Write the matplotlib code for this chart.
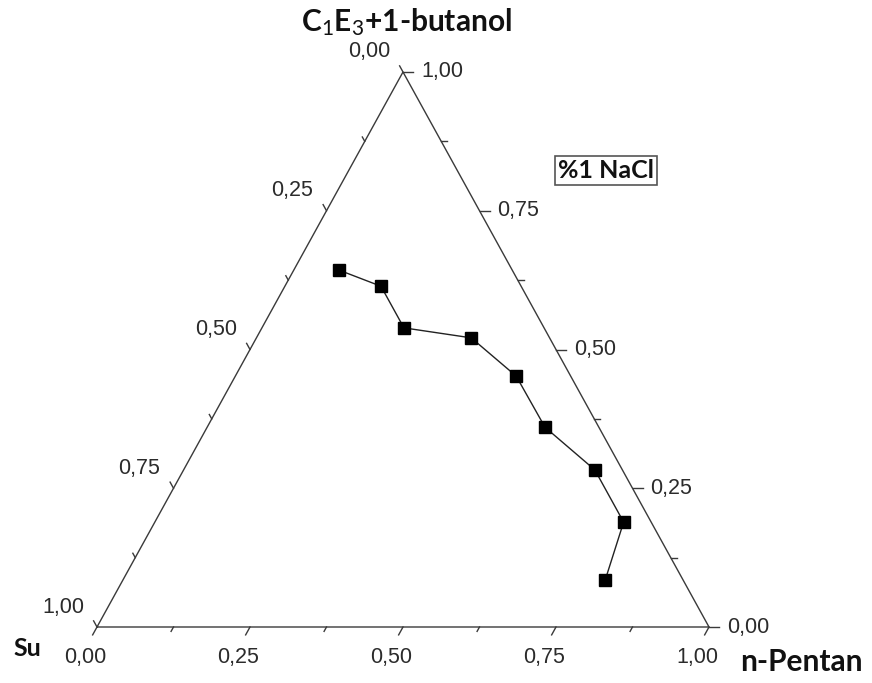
import numpy as np
import matplotlib as mpl
mpl.use('Agg')
from matplotlib import pyplot as plt

# ternary data: fractions of C1E3+1-butanol (top) and n-Pentan (right); Su = rest
butanol = [0.643, 0.614, 0.539, 0.521, 0.452, 0.360, 0.283, 0.189, 0.085]
pentan = [0.074, 0.157, 0.232, 0.351, 0.459, 0.552, 0.672, 0.766, 0.788]

major_ticks = [0.0, 0.25, 0.5, 0.75, 1.0]
minor_ticks = [0.125, 0.375, 0.625, 0.875]
tick_labels = ["0,00", "0,25", "0,50", "0,75", "1,00"]

top_label = r"C$_{1}$E$_{3}$+1-butanol"
left_label = "Su"
right_label = "n-Pentan"
note = "%1 NaCl"

plt.rcParams['mathtext.fontset'] = 'custom'
plt.rcParams['mathtext.rm'] = 'Lato'
plt.rcParams['mathtext.it'] = 'Lato'
plt.rcParams['mathtext.bf'] = 'Lato:bold'

# pixel scales of the triangle (base 612 px, height 555 px)
SX, SY = 612.0, 555.0


def tern(b, p):
    """Ternary fractions -> cartesian (triangle base 0..1, top at y=1)."""
    b = np.asarray(b, dtype=float)
    p = np.asarray(p, dtype=float)
    return p + 0.5 * b, b


def px(dx, dy):
    """Pixel offset -> data offset (dy positive = down)."""
    return dx / SX, -dy / SY


fig = plt.figure(figsize=(8.72, 6.83), dpi=100)
ax = fig.add_axes([0, 0, 1, 1])
ax.set_xlim(-97 / SX, 775 / SX)
ax.set_ylim(-56 / SY, 627 / SY)
ax.axis('off')

edge = '#3a3a3a'
tcol = '#2b2b2b'
# triangle
tx, ty = tern([0, 0, 1, 0], [0, 1, 0, 0])
ax.plot(tx, ty, color=edge, lw=1.0, solid_joinstyle='miter')

# unit tick directions in pixels
d_bottom = np.array([-306, 555]) / np.hypot(306, 555)
d_left = np.array([-306, -555]) / np.hypot(306, 555)
d_right = np.array([1.0, 0.0])


def tick(x0, y0, d, L):
    ddx, ddy = px(d[0] * L, d[1] * L)
    ax.plot([x0, x0 + ddx], [y0, y0 + ddy], color=edge, lw=1.0)


fs = 15.5
for v, lab in zip(major_ticks, tick_labels):
    # bottom axis: n-Pentan
    x0, y0 = tern(0, v)
    tick(x0, y0, d_bottom, 9)
    ox, oy = px(-12, 31)
    ax.text(x0 + ox, y0 + oy, lab, ha='center', va='center', fontsize=fs,
            color=tcol, family='Liberation Sans')
    # right axis: butanol
    x0, y0 = tern(v, 1 - v)
    tick(x0, y0, d_right, 10)
    ox, oy = px(18, 0)
    ax.text(x0 + ox, y0 + oy, lab, ha='left', va='center', fontsize=fs,
            color=tcol, family='Liberation Sans')
    # left axis: Su (0 at top, 1 at bottom-left)
    x0, y0 = tern(1 - v, 0)
    tick(x0, y0, d_left, 7)
    ox, oy = px(-34, -20)
    ax.text(x0 + ox, y0 + oy, lab, ha='center', va='center', fontsize=fs,
            color=tcol, family='Liberation Sans')

for v in minor_ticks:
    x0, y0 = tern(0, v)
    tick(x0, y0, d_bottom, 5)
    x0, y0 = tern(v, 1 - v)
    tick(x0, y0, d_right, 6)
    x0, y0 = tern(1 - v, 0)
    tick(x0, y0, d_left, 5)

# data
x, y = tern(butanol, pentan)
ax.plot(x, y, color='#222222', lw=1.0, marker='s', markersize=8.5,
        markerfacecolor='black', markeredgecolor='black')

# axis titles
ox, oy = px(3, -50)
ax.text(0.5 + ox, 1 + oy, top_label, ha='center', va='center', fontsize=21.5,
        fontweight='bold', family='Lato', color='#111111')
ox, oy = px(-70, 22)
ax.text(0 + ox, 0 + oy, left_label, ha='center', va='center', fontsize=18,
        fontweight='bold', family='Lato', color='#111111')
ox, oy = px(92, 35)
ax.text(1 + ox, 0 + oy, right_label, ha='center', va='center', fontsize=21.5,
        fontweight='bold', family='Lato', color='#111111')

# note box
ax.text((606 - 97) / SX, (627 - 170) / SY, note, ha='center', va='center',
        fontsize=18, family='Lato', fontweight='bold', color='#111111',
        bbox=dict(boxstyle='square,pad=0.12', facecolor='white',
                  edgecolor='#555555', lw=1.2))

fig.savefig('out.png', dpi=100)
